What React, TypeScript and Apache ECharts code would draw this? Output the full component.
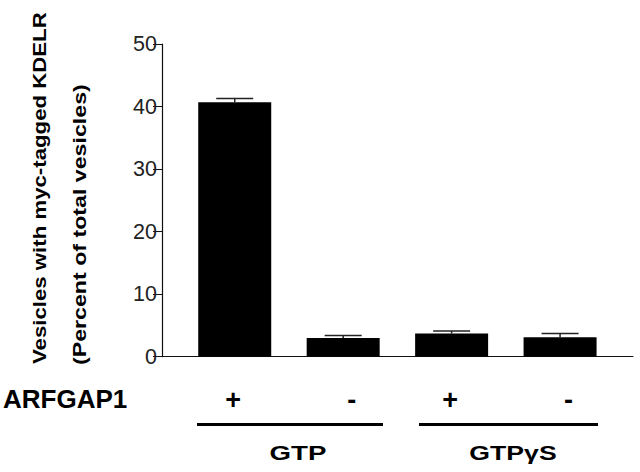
import React, { useEffect, useRef } from "react";
import * as echarts from "echarts";

const categories = ["+", "-", "+", "-"];
const means = [40.7, 3.0, 3.7, 3.1];
const errors = [0.6, 0.4, 0.4, 0.6];
const yMin = 0;
const yMax = 50;
const yInterval = 10;
const groupNames = ["GTP", "GTP\u03b3S"];
const rowLabel = "ARFGAP1";
const yTitleLines = ["Vesicles with myc-tagged KDELR", "(Percent of total vesicles)"];

const FAMILY = "Liberation Sans";

function txt(text: string, x: number, y: number, size: number, align: string, extra: any = {}) {
  return {
    type: "text",
    x,
    y,
    ...extra,
    style: {
      text,
      fontFamily: FAMILY,
      fontSize: size,
      fontWeight: "bold",
      fill: "#000",
      textAlign: align,
      align,
      textVerticalAlign: "middle",
      verticalAlign: "middle",
    },
  };
}

export default function App() {
  const ref = useRef<HTMLDivElement>(null);
  useEffect(() => {
    if (!ref.current) return;
    const chart = echarts.init(ref.current, undefined, { renderer: "svg" });
    const gridTop = 44;
    const gridHeight = 312.7;
    const labelRich = { fontFamily: FAMILY, fontWeight: "bold", fontSize: 27, color: "#000", lineHeight: 27 };
    const option: any = {
      animation: false,
      backgroundColor: "#ffffff",
      textStyle: { fontFamily: FAMILY },
      grid: [
        { left: 162, top: gridTop, width: 471, height: gridHeight },
        { left: 180.5, top: gridTop, width: 433.8, height: gridHeight },
      ],
      xAxis: [
        {
          gridIndex: 0,
          type: "value",
          min: 0,
          max: 1,
          axisLine: { show: true, lineStyle: { color: "#111", width: 1.2 } },
          axisTick: { show: false },
          axisLabel: { show: false },
          splitLine: { show: false },
        },
        {
          gridIndex: 1,
          type: "category",
          data: categories,
          axisLine: { show: false },
          axisTick: { show: false },
          splitLine: { show: false },
          axisLabel: {
            margin: 30,
            interval: 0,
            formatter: (v: string) => (v === "-" ? "{m|-}" : "{p|+}"),
            rich: {
              p: { ...labelRich, padding: [0, 3, 0, 0] },
              m: { ...labelRich, padding: [0, 0, 0, 17] },
            },
          },
        },
      ],
      yAxis: [
        {
          gridIndex: 0,
          type: "value",
          min: yMin,
          max: yMax,
          interval: yInterval,
          axisLine: { show: true, lineStyle: { color: "#111", width: 1.2 } },
          axisTick: { show: true, inside: false, length: 9, lineStyle: { color: "#111", width: 1 } },
          axisLabel: { margin: 5, fontFamily: FAMILY, fontSize: 21.5, color: "#222" },
          splitLine: { show: false },
        },
        {
          gridIndex: 1,
          type: "value",
          min: yMin,
          max: yMax,
          interval: yInterval,
          show: false,
          splitLine: { show: false },
        },
      ],
      series: [
        {
          type: "bar",
          xAxisIndex: 1,
          yAxisIndex: 1,
          data: means,
          barWidth: 73,
          itemStyle: { color: "#000" },
        },
        {
          type: "custom",
          xAxisIndex: 1,
          yAxisIndex: 1,
          data: means.map((m, i) => [i, m, m + errors[i]]),
          encode: { x: 0, y: [1, 2] },
          z: 5,
          renderItem: (params: any, api: any) => {
            const idx = api.value(0);
            const base = api.coord([idx, api.value(1)]);
            const top = api.coord([idx, api.value(2)]);
            const half = 18.5;
            const st = { stroke: "#222", lineWidth: 1.5 };
            return {
              type: "group",
              children: [
                { type: "line", shape: { x1: top[0], y1: base[1], x2: top[0], y2: top[1] }, style: st },
                { type: "line", shape: { x1: top[0] - half, y1: top[1], x2: top[0] + half, y2: top[1] }, style: st },
              ],
            };
          },
        },
      ],
      graphic: [
        txt(yTitleLines[0], 39, 364, 19, "left", { rotation: Math.PI / 2, scaleX: 1.17 }),
        txt(yTitleLines[1], 79, 365, 19, "left", { rotation: Math.PI / 2, scaleX: 1.22 }),
        txt(rowLabel, 3, 399, 26, "left"),
        { type: "line", shape: { x1: 197, y1: 424.5, x2: 383, y2: 424.5 }, style: { stroke: "#000", lineWidth: 3 } },
        { type: "line", shape: { x1: 419, y1: 424.5, x2: 598, y2: 424.5 }, style: { stroke: "#000", lineWidth: 3 } },
        txt(groupNames[0], 298, 453, 20.5, "center", { scaleX: 1.35 }),
        txt(groupNames[1], 513, 453, 20.5, "center", { scaleX: 1.3 }),
      ],
    };
    chart.setOption(option);
    return () => chart.dispose();
  }, []);
  return (
    <div
      ref={ref}
      style={{ position: "fixed", left: 0, top: 0, width: 640, height: 472, background: "#fff" }}
    />
  );
}
